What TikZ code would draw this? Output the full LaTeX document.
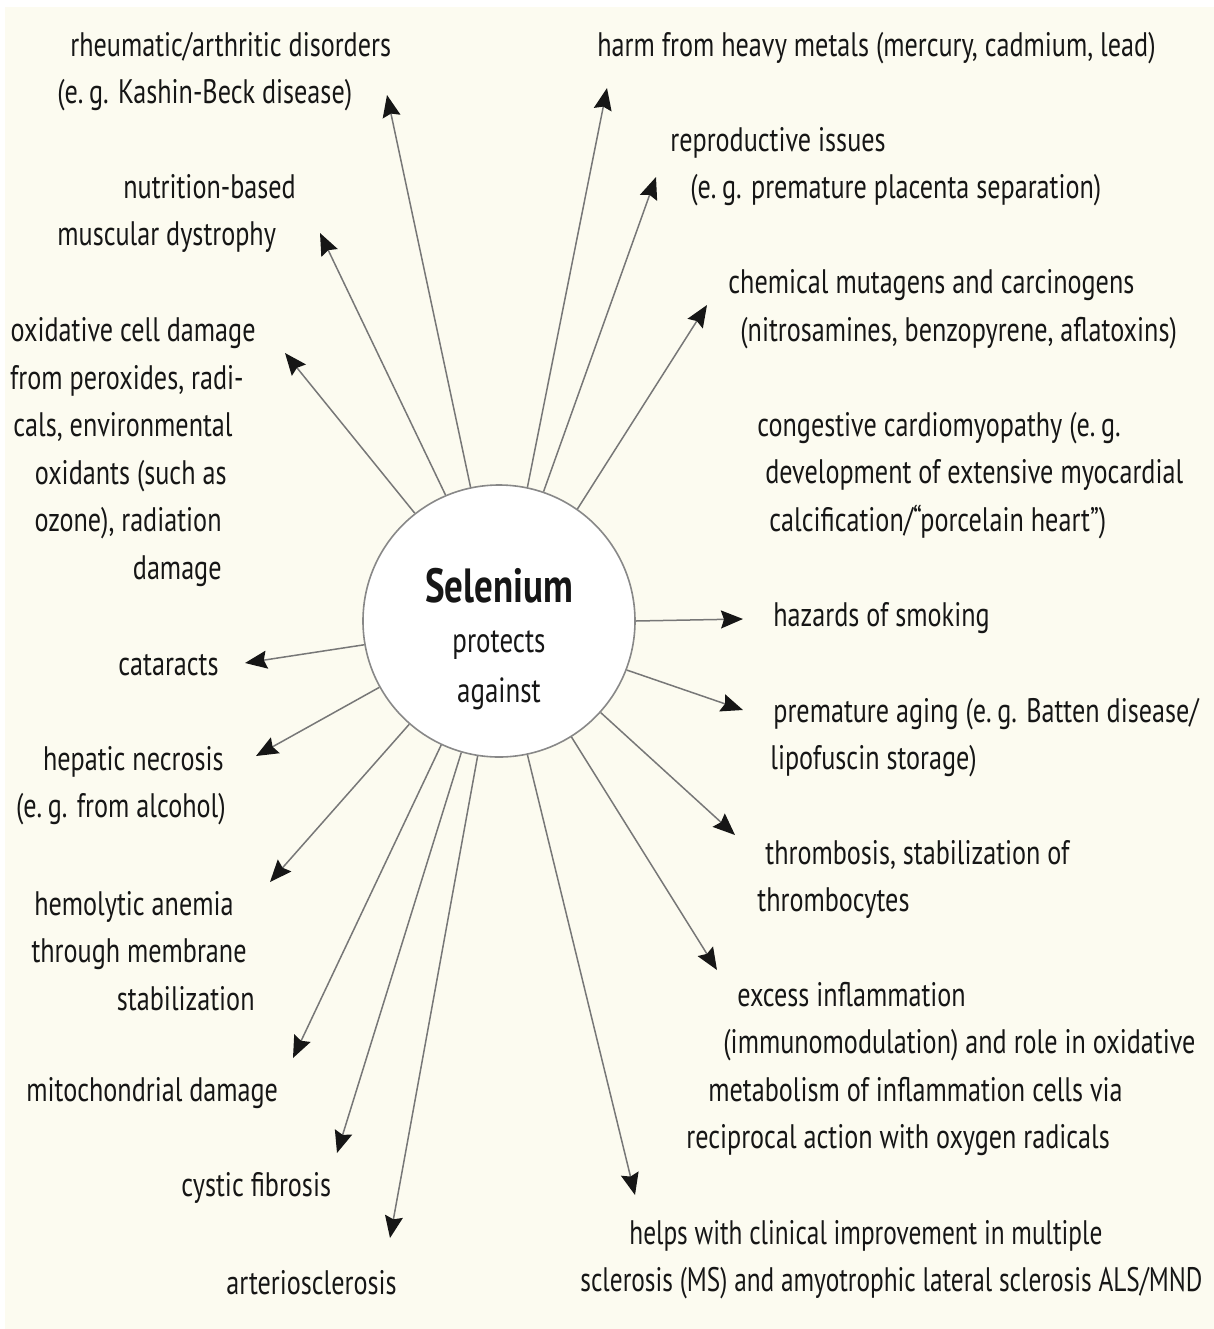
\documentclass[tikz,border=0pt]{standalone}
\usepackage{fontspec}
\setmainfont{PT Sans}[FakeStretch=0.77]
\usepackage{xcolor}
\definecolor{paper}{HTML}{FCFBF0}
\definecolor{ink}{HTML}{161616}
\definecolor{spoke}{HTML}{777777}
\definecolor{rim}{HTML}{888888}
\usetikzlibrary{arrows.meta}
\newcommand{\lpad}[1]{\rule{#1}{0pt}}

\begin{document}
\begin{tikzpicture}[x=0.5pt, y=-0.5pt,
    lbl/.style={font=\fontsize{17}{23.75}\selectfont, text=ink, inner sep=0pt, align=left},
    hub/.style={circle, draw=rim, fill=white, line width=0.8pt, minimum size=136pt, inner sep=0pt},
    arr/.style={draw=spoke, line width=0.75pt, -{Stealth[length=11pt, width=9pt, inset=1.5pt, color=ink]}}]
  \fill[white] (0,0) rectangle (1214,1329);
  \fill[paper] (5,7) rectangle (1214,1329);

  % centre
  \node[hub] (sel) at (499,621) {};
  \node[font=\fontsize{17.5}{25}\selectfont, text=ink, align=center, inner sep=0pt]
       (seltxt) at (499,639) {{\fontsize{24}{26}\selectfont\bfseries Selenium}\\protects\\against};

  % left side
  \node[lbl, anchor=west] (rheum) at (57,71.5) {\lpad{6.5pt}rheumatic/arthritic disorders\\(e.\,g. Kashin-Beck disease)};
  \node[lbl, anchor=west] (nutri) at (57,213.5) {\lpad{33pt}nutrition-based\\muscular dystrophy};
  \node[lbl, anchor=east, align=right] (oxid) at (256,452)
       {oxidative cell damage\\from peroxides, radi-\lpad{6pt}\\cals, environmental\lpad{11.5pt}\\oxidants (such as\lpad{14.5pt}\\ozone), radiation\lpad{17pt}\\damage\lpad{17pt}};
  \node[lbl, anchor=west] (catar) at (118,665) {cataracts};
  \node[lbl, anchor=east, align=right] (hepat) at (226,785.5) {hepatic necrosis\lpad{1pt}\\(e.\,g. from alcohol)};
  \node[lbl, anchor=east, align=right] (hemol) at (255,951) {hemolytic anemia\lpad{10.5pt}\\through membrane\lpad{4pt}\\stabilization};
  \node[lbl, anchor=west] (mito) at (26,1093) {mitochondrial damage};
  \node[lbl, anchor=west] (cyst) at (181,1188) {cystic fibrosis};
  \node[lbl, anchor=west] (arter) at (226,1283) {arteriosclerosis};

  % right side
  \node[lbl, anchor=west] (metal) at (597,48) {harm from heavy metals (mercury, cadmium, lead)};
  \node[lbl, anchor=west] (repro) at (670,166.5) {reproductive issues\\\lpad{10pt}(e.\,g. premature placenta separation)};
  \node[lbl, anchor=west] (chem) at (728,309) {chemical mutagens and carcinogens\\\lpad{6pt}(nitrosamines, benzopyrene, aflatoxins)};
  \node[lbl, anchor=west] (cardio) at (757,475.5)
       {congestive cardiomyopathy (e.\,g.\\\lpad{4pt}development of extensive myocardial\\\lpad{6pt}calcification/“porcelain heart”)};
  \node[lbl, anchor=west] (smoke) at (773,618) {hazards of smoking};
  \node[lbl, anchor=west] (aging) at (770,737.5) {\lpad{1.5pt}premature aging (e.\,g. Batten disease/\\lipofuscin storage)};
  \node[lbl, anchor=west] (thromb) at (757,879.5) {\lpad{4pt}thrombosis, stabilization of\\thrombocytes};
  \node[lbl, anchor=west] (inflam) at (686,1069)
       {\lpad{25.5pt}excess inflammation\\\lpad{18.5pt}(immunomodulation) and role in oxidative\\\lpad{11pt}metabolism of inflammation cells via\\reciprocal action with oxygen radicals};
  \node[lbl, anchor=west, font=\fontsize{17}{23.75}\selectfont\addfontfeature{FakeStretch=0.745}] (msals) at (580,1259.5)
       {\lpad{24.5pt}helps with clinical improvement in multiple\\sclerosis (MS) and amyotrophic lateral sclerosis ALS/MND};

  % arrow tips
  \coordinate (t-rheum)  at (387,95);
  \coordinate (t-metal)  at (607,88);
  \coordinate (t-nutri)  at (320,233);
  \coordinate (t-repro)  at (656,177);
  \coordinate (t-oxid)   at (285,353);
  \coordinate (t-chem)   at (707,305);
  \coordinate (t-smoke)  at (743,619);
  \coordinate (t-aging)  at (743,710);
  \coordinate (t-catar)  at (245,663);
  \coordinate (t-hepat)  at (256,756);
  \coordinate (t-thromb) at (735,835);
  \coordinate (t-hemol)  at (270,882);
  \coordinate (t-inflam) at (717,970);
  \coordinate (t-mito)   at (293,1058);
  \coordinate (t-cyst)   at (337,1153);
  \coordinate (t-arter)  at (390,1238);
  \coordinate (t-ms)     at (635,1195);

  \draw[arr] (sel.102.2) -- (t-rheum);
  \draw[arr] (sel.78)    -- (t-metal);
  \draw[arr] (sel.113.3) -- (t-nutri);
  \draw[arr] (sel.71.4)  -- (t-repro);
  \draw[arr] (sel.128.5) -- (t-oxid);
  \draw[arr] (sel.55.3)  -- (t-chem);
  \draw[arr] (sel.0.5)   -- (t-smoke);
  \draw[arr] (sel.-21)   -- (t-aging);
  \draw[arr] (sel.190)   -- (t-catar);
  \draw[arr] (sel.209.4) -- (t-hepat);
  \draw[arr] (sel.-42.6) -- (t-thromb);
  \draw[arr] (sel.229)   -- (t-hemol);
  \draw[arr] (sel.-58.7) -- (t-inflam);
  \draw[arr] (sel.245.5) -- (t-mito);
  \draw[arr] (sel.254.5) -- (t-cyst);
  \draw[arr] (sel.261.2) -- (t-arter);
  \draw[arr] (sel.282)   -- (t-ms);
\end{tikzpicture}
\end{document}
